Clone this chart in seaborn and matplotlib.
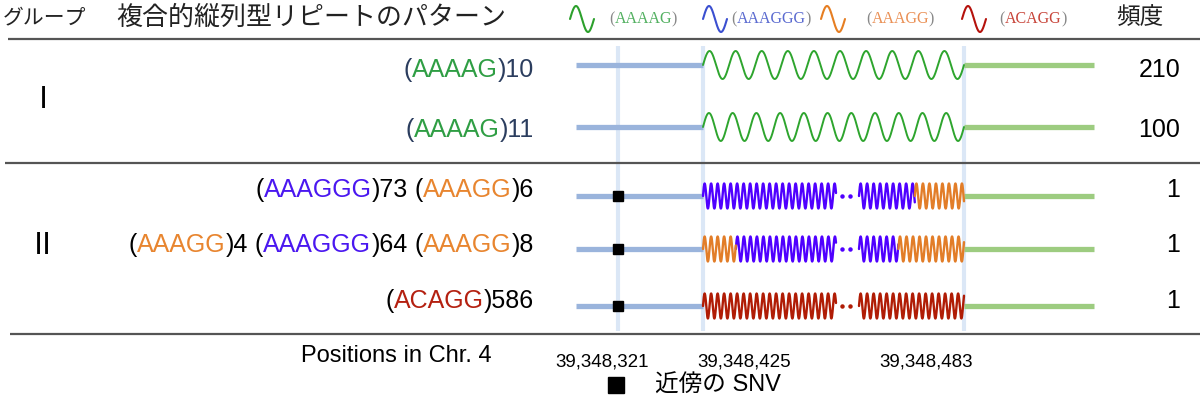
import numpy as np
import pandas as pd
import matplotlib
matplotlib.use("Agg")
import matplotlib.pyplot as plt
import seaborn as sns

# ── データ ──────────────────────────────────────────────
groups      = ["I", "II"]
group_rows  = [[0, 1], [2, 3, 4]]
patterns = [
    [("AAAAG", 10)],
    [("AAAAG", 11)],
    [("AAAGGG", 73), ("AAAGG", 6)],
    [("AAAGG", 4), ("AAAGGG", 64), ("AAAGG", 8)],
    [("ACAGG", 586)],
]
freqs       = [210, 100, 1, 1, 1]
has_snv     = [False, False, True, True, True]
motifs      = ["AAAAG", "AAAGGG", "AAAGG", "ACAGG"]
positions   = ["39,348,321", "39,348,425", "39,348,483"]

# ── 色 ──────────────────────────────────────────────────
wave_col   = {"AAAAG": "#2ea52e", "AAAGGG": "#4f00ff", "AAAGG": "#e27d28", "ACAGG": "#b01c05"}
text_col   = {"AAAAG": "#2f9e44", "AAAGGG": "#4a17f0", "AAAGG": "#e8852f", "ACAGG": "#b42010"}
leg_wave   = {"AAAAG": "#2ca02c", "AAAGGG": "#3b4fd0", "AAAGG": "#e67e22", "ACAGG": "#b5120c"}
leg_text   = {"AAAAG": "#52b060", "AAAGGG": "#5a6ad0", "AAAGG": "#ea9055", "ACAGG": "#c8453a"}
navy       = "#2b3d5e"

# ── レイアウト (ピクセル座標) ───────────────────────────
W, H       = 1200, 406
row_y      = [66, 128, 197, 250, 307]
text_y     = [70, 130, 190, 245, 301]
x_left0    = 576
x_snv      = 618
x_rep0     = 703
x_rep1     = 964
x_right1   = 1094
gap        = (836, 859)
unit_short = 8.2      # 短い反復 1 単位の幅
long_thr   = 20
dense_per  = 6.5
leg_wave_x = [570, 703, 821, 962]
leg_text_x = [609, 731, 866, 999]
pos_x      = [602, 744, 926]

sns.set_theme(style="white")
plt.rcParams["font.family"] = ["Liberation Sans", "Noto Sans CJK JP"]

fig = plt.figure(figsize=(W / 100, H / 100), dpi=100)
ax = fig.add_axes([0, 0, 1, 1])
ax.set_xlim(0, W)
ax.set_ylim(H, 0)
ax.axis("off")
rend = fig.canvas.get_renderer()


def sine(x0, x1, period, amp, yc):
    x = np.linspace(x0, x1, max(int((x1 - x0) * 6), 30))
    return x, yc - amp * np.sin(2 * np.pi * (x - x0) / period)


def rich_right(x_right, y, parts, size):
    x = x_right
    for txt, col in reversed(parts):
        t = ax.text(x, y, txt, color=col, ha="right", va="center", fontsize=size)
        bb = t.get_window_extent(renderer=rend)
        x = ax.transData.inverted().transform((bb.x0, bb.y0))[0]


def rich_left(x_left, y, parts, size, family):
    x = x_left
    for txt, col in parts:
        t = ax.text(x, y, txt, color=col, ha="left", va="center", fontsize=size, family=family)
        bb = t.get_window_extent(renderer=rend)
        x = ax.transData.inverted().transform((bb.x1, bb.y0))[0]


# ── 罫線・縦ガイド ──────────────────────────────────────
ax.vlines([x_snv, x_rep0, x_rep1], 47, 332, color="#dbe7f6", lw=3, zorder=0)
for y, x0 in [(40, 8), (164, 5), (335, 10)]:
    ax.hlines(y, x0, W, color="#555555", lw=1.6)

# ── 波形データを作成 ────────────────────────────────────
sparse, dense = [], []
dots = []
for i, pat in enumerate(patterns):
    yc = row_y[i]
    ax.hlines(yc, x_left0, x_rep0, color="#9ab4dc", lw=3.8, zorder=1)
    ax.hlines(yc, x_rep1, x_right1, color="#9dcc80", lw=3.8, zorder=1)
    if all(c < long_thr for _, c in pat):
        total = sum(c for _, c in pat)
        cur = x_rep0
        for m, c in pat:
            w = (x_rep1 - x_rep0) * c / total
            xs, ys = sine(cur, cur + w, (x_rep1 - x_rep0) / total, 14, yc)
            sparse.append(pd.DataFrame({"x": xs, "y": ys, "motif": m, "piece": f"{i}-{m}-{cur}"}))
            cur += w
        continue
    k = [j for j, (_, c) in enumerate(pat) if c >= long_thr][0]
    pieces = []
    cur = x_rep0
    for m, c in pat[:k]:
        pieces.append((cur, cur + c * unit_short, m))
        cur += c * unit_short
    right = x_rep1
    tail = []
    for m, c in reversed(pat[k + 1:]):
        tail.insert(0, (right - c * unit_short, right, m))
        right -= c * unit_short
    lm = pat[k][0]
    pieces += [(cur, gap[0], lm), (gap[1], right, lm)] + tail
    dots.append((yc, lm))
    for x0, x1, m in pieces:
        xs, ys = sine(x0, x1, dense_per, 12.5, yc)
        dense.append(pd.DataFrame({"x": xs, "y": ys, "motif": m, "piece": f"{i}-{m}-{x0}"}))

df_sparse = pd.concat(sparse, ignore_index=True)
df_dense = pd.concat(dense, ignore_index=True)
sns.lineplot(data=df_sparse, x="x", y="y", hue="motif", units="piece", estimator=None,
             sort=False, palette=wave_col, legend=False, lw=1.4, ax=ax, zorder=2)
sns.lineplot(data=df_dense, x="x", y="y", hue="motif", units="piece", estimator=None,
             sort=False, palette=wave_col, legend=False, lw=1.7, ax=ax, zorder=2)
for yc, m in dots:
    ax.plot([gap[0] + 6, gap[0] + 14], [yc, yc], ls="none", marker="o", ms=2.2, color=wave_col[m])

# ── SNV ─────────────────────────────────────────────────
for i, s in enumerate(has_snv):
    if s:
        ax.plot(x_snv, row_y[i], marker="s", ms=7.5, color="black", zorder=3)

# ── 行ラベル・頻度 ──────────────────────────────────────
for i, pat in enumerate(patterns):
    base = navy if i < 2 else "black"
    parts = []
    for j, (m, c) in enumerate(pat):
        parts += [(("(" if j == 0 else " ("), base), (m, text_col[m]), (f"){c}", base)]
    rich_right(534, text_y[i], parts, 18)
    ax.text(1180, text_y[i], str(freqs[i]), ha="right", va="center", fontsize=18, color="black")

for g, rows in zip(groups, group_rows):
    ax.text(43, np.mean([text_y[r] for r in rows]), g, ha="center", va="center",
            fontsize=22, color="black", family="Noto Sans CJK JP")

# ── ヘッダー ────────────────────────────────────────────
ax.text(3, 18, "グループ", ha="left", va="center", fontsize=15, color="#222222")
ax.text(116, 18, "複合的縦列型リピートのパターン", ha="left", va="center", fontsize=18.7, color="#222222")
ax.text(1140, 18, "頻度", ha="center", va="center", fontsize=17, color="#222222")
for m, xw, xt in zip(motifs, leg_wave_x, leg_text_x):
    xs, ys = sine(xw, xw + 24, 24, 13, 20)
    ax.plot(xs, ys, color=leg_wave[m], lw=1.5)
    rich_left(xt, 19, [("(", "#888888"), (m, leg_text[m]), (")", "#888888")], 11.5, "Liberation Serif")

# ── 下部: 座標と凡例 ────────────────────────────────────
ax.text(492, 356, "Positions in Chr. 4", ha="right", va="center", fontsize=17, color="black")
for x, p in zip(pos_x, positions):
    ax.text(x, 362, p, ha="center", va="center", fontsize=13.5, color="black")
ax.plot(616, 386, marker="s", ms=12, color="black")
ax.text(655, 386, "近傍の SNV", ha="left", va="center", fontsize=17, color="black")

fig.savefig("out.png", dpi=100)
